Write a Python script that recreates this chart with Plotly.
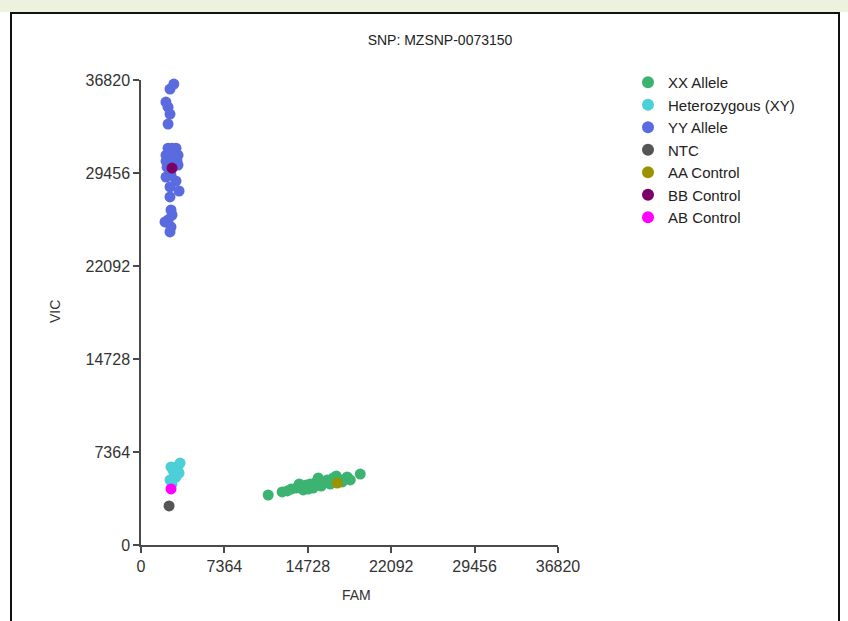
import plotly.graph_objects as go

# ---------------- data ----------------
xx_fam = [11230, 12460, 12910, 13260, 13700, 14060, 14320, 14590, 14940, 15200,
          15470, 15650, 15910, 16180, 16440, 16710, 16970, 17240, 17500, 17770,
          18030, 18210, 18480, 19360, 13970, 14760]
xx_vic = [3960, 4200, 4280, 4430, 4510, 4670, 4360, 4750, 4830, 4510,
          4990, 5310, 4670, 4910, 5150, 4830, 5310, 5470, 5150, 4990,
          5230, 5390, 5150, 5620, 4830, 4430]

het_fam = [2650, 3270, 3450, 2920, 3360, 2560, 3090, 2740, 2820]
het_vic = [6180, 6260, 6490, 5700, 5700, 5150, 5380, 4830, 5940]

yy_fam = [2900, 2560, 2200, 2390, 2560, 2390, 2390, 3090, 2740, 2210,
          2920, 3270, 2210, 2740, 3180, 2300, 2830, 3270, 2210, 2650,
          3090, 3360, 2560, 2560, 2650, 2740, 2120, 2650, 2560, 2390]
yy_vic = [36500, 36100, 35070, 34670, 34120, 33330, 31420, 31420, 31420, 30870,
          30870, 30870, 30400, 30400, 30400, 29920, 29920, 30080, 29130, 29290,
          28820, 28030, 28350, 27560, 26530, 26130, 25580, 25180, 24790, 25740]

ntc_fam = [2480]
ntc_vic = [3090]
aa_fam = [17330]
aa_vic = [4910]
bb_fam = [2740]
bb_vic = [29850]
ab_fam = [2650]
ab_vic = [4440]

tick_vals = [0, 7364, 14728, 22092, 29456, 36820]
tick_text = ["0", "7364", "14728", "22092", "29456", "36820"]

series = [
    ("XX Allele", xx_fam, xx_vic, "#3cb371"),
    ("Heterozygous (XY)", het_fam, het_vic, "#4ccfd6"),
    ("YY Allele", yy_fam, yy_vic, "#5a6be0"),
    ("NTC", ntc_fam, ntc_vic, "#555555"),
    ("AA Control", aa_fam, aa_vic, "#9a9400"),
    ("BB Control", bb_fam, bb_vic, "#7d0066"),
    ("AB Control", ab_fam, ab_vic, "#ff00ff"),
]

# ---------------- figure ----------------
W, H = 848, 621
L, R, T, B = 141, 558, 80, 545  # plot area in pixels

fig = go.Figure()
for name, xs, ys, col in series:
    fig.add_trace(go.Scatter(
        x=xs, y=ys, mode="markers", name=name,
        marker=dict(color=col, size=11, line=dict(width=0)),
        cliponaxis=False,
    ))

def px_x(p):
    return (p - L) / (R - L)

def px_y(p):
    return (B - p) / (B - T)

font_family = "Liberation Sans, Arial, sans-serif"

shapes = [
    # faint watermark strip at very top
    dict(type="rect", xref="paper", yref="paper",
         x0=px_x(0), x1=px_x(W), y0=px_y(12), y1=px_y(0),
         fillcolor="#edf2df", line=dict(width=0), layer="below"),
    # frame border
    dict(type="line", xref="paper", yref="paper",
         x0=px_x(11), x1=px_x(11), y0=px_y(12), y1=px_y(640),
         line=dict(color="#111111", width=2)),
    dict(type="line", xref="paper", yref="paper",
         x0=px_x(10), x1=px_x(840), y0=px_y(13), y1=px_y(13),
         line=dict(color="#111111", width=2)),
    dict(type="line", xref="paper", yref="paper",
         x0=px_x(839), x1=px_x(839), y0=px_y(12), y1=px_y(640),
         line=dict(color="#111111", width=2)),
]

axis_common = dict(
    tickmode="array", tickvals=tick_vals, ticktext=tick_text,
    showgrid=False, zeroline=False, showline=True,
    linecolor="#4a4a4a", linewidth=1.5,
    ticks="outside", ticklen=6, tickcolor="#4a4a4a", tickwidth=1.5,
    tickfont=dict(family=font_family, size=16, color="#333333"),
    range=[0, 36820], fixedrange=True,
)

annotations = [
    dict(text="FAM", xref="paper", yref="paper", x=px_x(356), y=px_y(595),
         xanchor="center", yanchor="middle", showarrow=False,
         font=dict(family=font_family, size=14, color="#333333")),
    dict(text="VIC", xref="paper", yref="paper", x=px_x(55), y=px_y(312),
         xanchor="center", yanchor="middle", showarrow=False, textangle=-90,
         font=dict(family=font_family, size=14, color="#333333")),
]

fig.update_layout(
    width=W, height=H,
    margin=dict(l=L, r=W - R, t=T, b=H - B, autoexpand=False),
    paper_bgcolor="white", plot_bgcolor="white",
    font=dict(family=font_family, color="#333333"),
    title=dict(text="SNP: MZSNP-0073150", x=440 / W, xref="container",
               xanchor="center",
               y=1 - 40 / H, yref="container", yanchor="middle",
               font=dict(family=font_family, size=14, color="#222222")),
    xaxis=axis_common,
    yaxis=axis_common,
    legend=dict(x=px_x(628), y=px_y(66), xanchor="left", yanchor="top",
                font=dict(family=font_family, size=15, color="#222222"),
                itemsizing="constant", bgcolor="rgba(0,0,0,0)",
                tracegroupgap=0),
    showlegend=True,
    shapes=shapes,
    annotations=annotations,
)

fig.write_html("out.html", config={"displayModeBar": False},
               post_script="document.body.style.margin='0';document.body.style.overflow='hidden';")
